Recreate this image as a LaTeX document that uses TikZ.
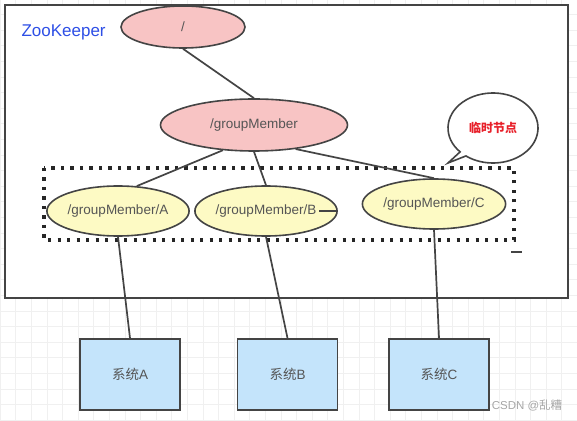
\documentclass[tikz,border=0pt]{standalone}
\usepackage{fontspec}
\setmainfont{Liberation Sans}
\newfontfamily\cjk{Noto Sans CJK SC}
\usepackage{tikz}
\usetikzlibrary{shapes.geometric, positioning, calc}
\definecolor{edge}{RGB}{68,68,68}
\definecolor{txt}{RGB}{85,85,85}
\definecolor{zkpink}{RGB}{248,196,196}
\definecolor{zkyellow}{RGB}{253,250,196}
\definecolor{sysblue}{RGB}{196,228,251}
\definecolor{zkblue}{RGB}{46,79,230}
\definecolor{tmpred}{RGB}{232,32,42}
\tikzset{
 zknode/.style={ellipse, draw=edge, line width=1.6pt, fill=zkpink, inner sep=0pt, text=txt, font=\fontsize{13.5}{15}\selectfont},
 tmpnode/.style={zknode, fill=zkyellow},
 sysbox/.style={rectangle, draw=edge, line width=1.8pt, fill=sysblue, minimum width=100pt, minimum height=71pt, text=txt, font=\fontsize{13.5}{15}\selectfont},
 link/.style={draw=edge, line width=1.7pt},
 dotbox/.style={draw=black!85, line width=3.3pt, dash pattern=on 3.3pt off 6.2pt}
}

\begin{document}
\begin{tikzpicture}[x=1pt,y=1pt]
 \useasboundingbox (0,0) rectangle (577,420);
 \draw[gray!12, line width=0.5pt, step=15.6pt] (0,0) grid (577,420);
 \draw[edge, line width=1.8pt, fill=white] (5,415) rectangle (568,122);
 \node[anchor=west, text=zkblue, font=\fontsize{17}{19}\selectfont] (zk) at (18,388) {ZooKeeper};

 \draw[dotbox] (44,252) rectangle (514,180);
 \draw[edge, line width=1.8pt] (511,168) coordinate (dm) -- ++(11,0);

 \coordinate (bc) at (493,292);
 \draw[edge, line width=1.6pt, fill=white] ($(bc)+(233:45 and 35)$) -- (448,257) -- ($(bc)+(223:45 and 35)$) arc[start angle=223, end angle=-127, x radius=45pt, y radius=35pt] -- cycle;
 \node[text=tmpred, font=\fontsize{12}{13}\selectfont\bfseries] (tmp) at (bc) {\cjk 临时节点};

 \node[zknode, minimum width=124pt, minimum height=42pt] (root) at (183,393) {/};
 \node[zknode, minimum width=187pt, minimum height=52pt] (gm) at (254,295) {/groupMember};
 \node[tmpnode, minimum width=140pt, minimum height=50pt] (mA) at (118,209) {/groupMember/A};
 \node[tmpnode, minimum width=130pt, minimum height=50pt] (mB) at (266,209) {/groupMember/B};
 \node[tmpnode, minimum width=131pt, minimum height=50pt] (mC) at (434,216) {/groupMember/C};
 \draw[link] (mB.east) -- ++(-19,0);

 \node[sysbox] (sA) at (130,45.5) {{\cjk 系统}A};
 \node[sysbox] (sB) at (287.5,45.5) {{\cjk 系统}B};
 \node[sysbox] (sC) at (439,45.5) {{\cjk 系统}C};

 \draw[link] (root.south) -- (gm.north);
 \draw[link] (gm.219) -- (mA.53);
 \draw[link] (gm.south) -- (mB.north);
 \draw[link] (gm.330) -- (mC.north);
 \draw[link] (mA.south) -- (sA.north);
 \draw[link] (mB.south) -- (sB.north);
 \draw[link] (mC.south) -- (sC.north);

 \node[text=gray!70, font=\fontsize{11.5}{13}\selectfont] (wm) at (527,15) {CSDN @{\cjk 乱糟}};
\end{tikzpicture}
\end{document}
